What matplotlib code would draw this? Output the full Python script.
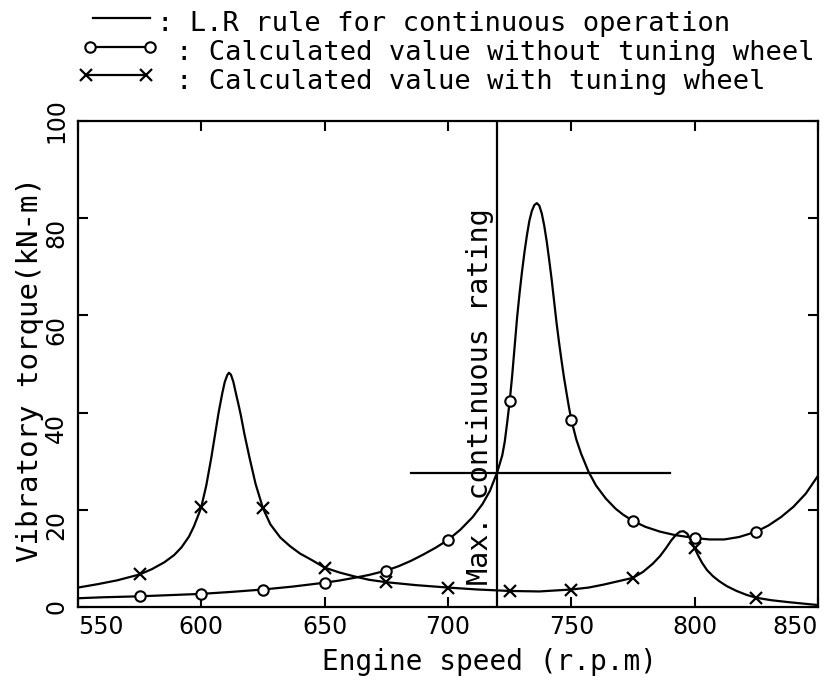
import matplotlib
matplotlib.use("Agg")
import matplotlib.pyplot as plt
from matplotlib.lines import Line2D

# ---- data ----
# curve: calculated value without tuning wheel
no_tw_x = [550, 560, 575, 590, 600, 612, 625, 637, 650, 656, 662, 668, 675, 680, 685, 690,
           695, 700, 705, 710, 714, 717, 720, 722, 723, 724, 725, 726, 727, 728, 729, 730,
           731, 732, 733, 734, 735, 736, 737, 738, 739, 740, 741, 742, 743, 744, 745, 746,
           747, 748, 749, 750, 752, 754, 757, 760, 764, 768, 771, 775, 780, 786, 792, 800,
           806, 812, 818, 825, 830, 835, 840, 845, 850]
no_tw_y = [1.8, 2.0, 2.2, 2.5, 2.7, 3.1, 3.6, 4.2, 5.0, 5.45, 6.0, 6.6, 7.5, 8.4, 9.5, 10.8,
           12.2, 13.8, 15.9, 18.5, 21.2, 23.9, 27.8, 31.2, 34.0, 38.0, 42.3, 47.5, 53.5, 59.5,
           64.5, 69.0, 73.0, 76.5, 79.5, 81.5, 82.7, 83.1, 82.6, 81.0, 78.5, 75.3, 71.5, 67.5,
           63.0, 58.5, 54.5, 50.8, 47.3, 44.2, 41.2, 38.5, 34.5, 31.5, 27.8, 25.0, 22.3, 20.2,
           19.0, 17.7, 16.5, 15.5, 14.8, 14.2, 13.9, 13.9, 14.4, 15.5, 16.8, 18.5, 20.6, 23.3,
           27.0]
no_tw_mark_x = [575, 600, 625, 650, 675, 700, 725, 750, 775, 800, 825]
no_tw_mark_y = [2.2, 2.7, 3.6, 5.0, 7.5, 13.8, 42.3, 38.5, 17.7, 14.2, 15.5]

# curve: calculated value with tuning wheel
tw_x = [550, 558, 566, 575, 580, 585, 589, 592, 595, 597, 599, 600, 602, 604, 605.5, 607,
        608.5, 609.5, 610.5, 611.2, 612, 613, 614, 615, 616, 617.5, 619.5, 622, 625, 628,
        632, 636, 640, 645, 650, 656, 662, 668, 675, 687, 700, 712, 725, 737, 750, 757,
        763, 769, 775, 779, 783, 786, 788.5, 790.5, 792.5, 794, 795.5, 797, 798.3, 799.3,
        800, 801.5, 803, 805, 807.5, 810, 813, 817, 821, 825, 831, 838, 844, 850]
tw_y = [4.0, 4.7, 5.5, 6.7, 7.8, 9.2, 10.7, 12.3, 14.5, 16.6, 19.2, 20.6, 25.0, 30.6, 35.3,
        40.0, 44.0, 46.3, 47.7, 48.2, 47.8, 46.3, 44.0, 41.8, 39.5, 35.5, 30.8, 25.3, 20.3,
        17.0, 14.3, 12.5, 11.0, 9.6, 8.1, 7.1, 6.3, 5.6, 5.1, 4.5, 4.0, 3.6, 3.3, 3.2, 3.6,
        4.0, 4.6, 5.3, 6.0, 7.2, 8.9, 10.5, 12.2, 13.7, 14.9, 15.5, 15.6, 15.1, 13.9, 12.8,
        12.1, 10.5, 9.1, 7.6, 6.3, 5.3, 4.3, 3.3, 2.5, 1.9, 1.4, 1.0, 0.7, 0.4]
tw_mark_x = [575, 600, 625, 650, 675, 700, 725, 750, 775, 800, 825]
tw_mark_y = [6.7, 20.6, 20.3, 8.1, 5.1, 4.0, 3.3, 3.6, 6.0, 12.1, 1.9]

# L.R rule line and max continuous rating
lr_x = [685, 790]
lr_y = [27.5, 27.5]
mcr_speed = 720

x_ticks = [550, 600, 650, 700, 750, 800, 850]
y_ticks = [0, 20, 40, 60, 80, 100]

legend_texts = [": L.R rule for continuous operation",
                ": Calculated value without tuning wheel",
                ": Calculated value with tuning wheel"]
x_label = "Engine speed (r.p.m)"
y_label = "Vibratory torque(kN-m)"
mcr_label = "Max. continuous rating"

# ---- figure ----
W, H = 832, 685
fig = plt.figure(figsize=(W / 100, H / 100), dpi=100)
fig.patch.set_facecolor("white")

def fx(px):
    return px / W

def fy(py):
    return 1 - py / H

ax = fig.add_axes([fx(78), fy(607), (818 - 78) / W, (607 - 121) / H])
ax.set_xlim(550, 850)
ax.set_ylim(0, 100)

lw = 1.6
ax.plot(no_tw_x, no_tw_y, color="black", lw=lw, solid_joinstyle="round")
ax.plot(no_tw_mark_x, no_tw_mark_y, linestyle="none", marker="o", ms=7.5,
        mfc="white", mec="black", mew=1.5)
ax.plot(tw_x, tw_y, color="black", lw=lw, solid_joinstyle="round")
ax.plot(tw_mark_x, tw_mark_y, linestyle="none", marker="x", ms=9,
        mec="black", mew=1.6)
ax.plot(lr_x, lr_y, color="black", lw=lw)
ax.axvline(mcr_speed, color="black", lw=lw)

mono = "DejaVu Sans Mono"
ax.text(mcr_speed - 1.2, 4.5, mcr_label, rotation=90, ha="right", va="bottom",
        family=mono, fontsize=20.5)

for s in ax.spines.values():
    s.set_linewidth(1.6)

ax.set_xticks(x_ticks)
ax.set_yticks(y_ticks)
ax.tick_params(direction="in", length=7, width=1.5, top=True, right=True,
               labelsize=17, pad=6)
ax.tick_params(axis="y", labelrotation=90, pad=7)
ax.set_xticklabels([str(v) for v in x_ticks])
ax.set_yticklabels([str(v) for v in y_ticks])
for lab in ax.get_xticklabels():
    if lab.get_text() == "550":
        lab.set_ha("left")
    elif lab.get_text() == "850":
        lab.set_ha("right")
for lab in ax.get_yticklabels():
    if lab.get_text() in ("0", "100"):
        lab.set_va("center")
    else:
        lab.set_va("top")

fig.text(fx(490), fy(662), x_label, ha="center", va="center", family=mono, fontsize=20)
fig.text(fx(30), fy(370), y_label, ha="center", va="center", rotation=90,
         family=mono, fontsize=21)

# ---- legend at top ----
fig.add_artist(Line2D([fx(93), fx(150)], [fy(18), fy(18)], color="black", lw=lw,
                      transform=fig.transFigure))
fig.add_artist(Line2D([fx(90), fx(150)], [fy(47), fy(47)], color="black", lw=lw,
                      marker="o", ms=7.5, mfc="white", mec="black", mew=1.5,
                      transform=fig.transFigure))
fig.add_artist(Line2D([fx(86), fx(146)], [fy(75), fy(75)], color="black", lw=lw,
                      marker="x", ms=9, mec="black", mew=1.6,
                      transform=fig.transFigure))
fig.text(fx(157), fy(24), legend_texts[0], ha="left", va="center", family=mono, fontsize=19.5)
fig.text(fx(176), fy(53), legend_texts[1], ha="left", va="center", family=mono, fontsize=19.5)
fig.text(fx(176), fy(82), legend_texts[2], ha="left", va="center", family=mono, fontsize=19.5)

fig.savefig("out.png", dpi=100, facecolor="white")
